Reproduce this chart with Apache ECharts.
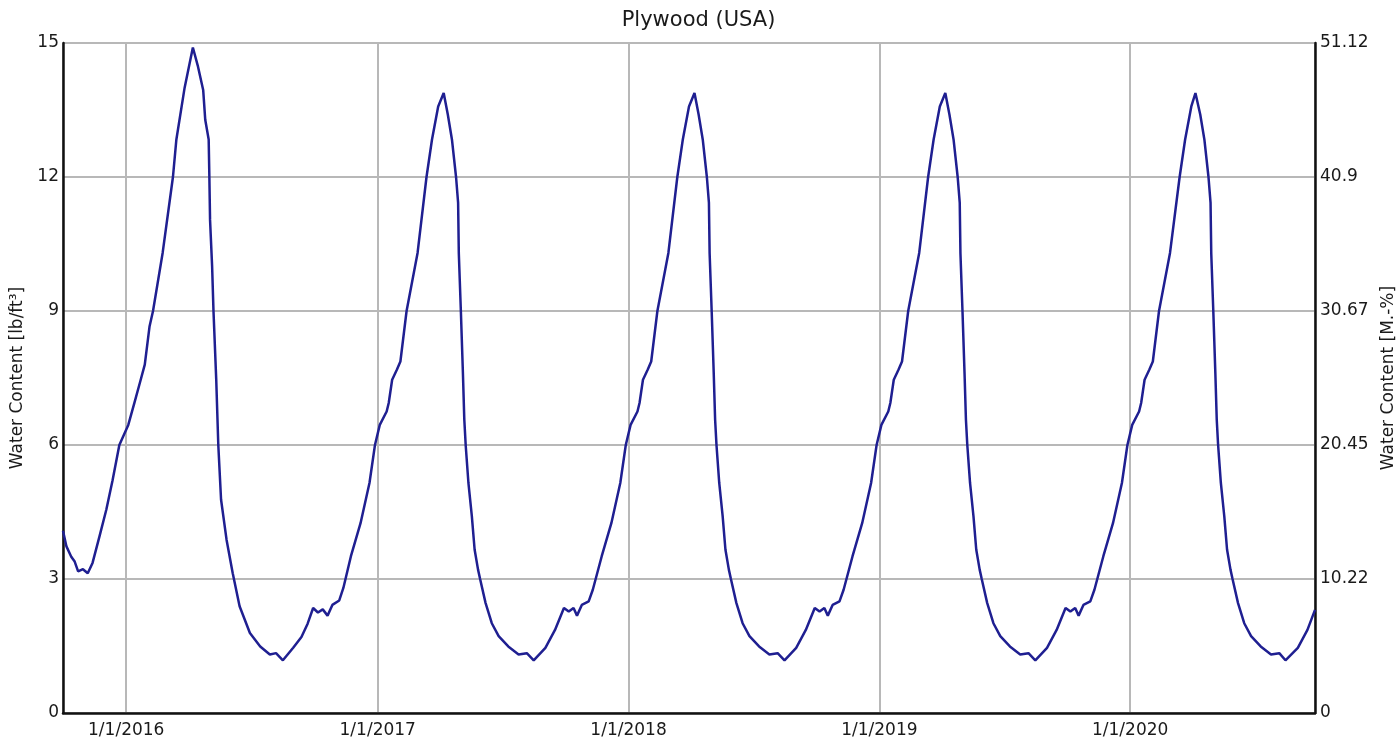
<!DOCTYPE html>
<html>
<head>
<meta charset="utf-8">
<script src="https://cdn.jsdelivr.net/npm/echarts@6/dist/echarts.min.js"></script>
<style>
html,body{margin:0;padding:0;background:#fff;overflow:hidden;}
#chart{width:1397px;height:740px;}
</style>
</head>
<body>
<div id="chart"></div>
<script>
// ---- data ----
const title = 'Plywood (USA)';
const leftName = 'Water Content [lb/ft³]';
const rightName = 'Water Content [M.-%]';
const rightTickLabels = ['0', '10.22', '20.45', '30.67', '40.9', '51.12'];
const xMin = '2015-10-01';
const xMax = '2020-09-26';

// autumn 2015
const dates2015 = ['2015-10-01','2015-10-06','2015-10-13','2015-10-18','2015-10-23','2015-10-30','2015-11-06','2015-11-13','2015-11-23','2015-12-03','2015-12-12','2015-12-22'];
const water2015 = [4.08, 3.73, 3.50, 3.39, 3.17, 3.22, 3.13, 3.36, 3.95, 4.55, 5.20, 6.00];

// 2016 (leap year)
const dates2016 = ['2016-01-04','2016-01-13','2016-01-21','2016-01-28','2016-02-04','2016-02-09','2016-02-23','2016-03-09','2016-03-14','2016-03-26','2016-04-07','2016-04-14','2016-04-22','2016-04-25','2016-04-30','2016-05-01','2016-05-02','2016-05-05','2016-05-07','2016-05-11','2016-05-14','2016-05-18','2016-05-26','2016-06-04','2016-06-14','2016-06-29','2016-07-14','2016-07-28','2016-08-06','2016-08-16','2016-08-31','2016-09-12','2016-09-21','2016-09-29','2016-10-06','2016-10-13','2016-10-20','2016-10-27','2016-11-06','2016-11-12','2016-11-23','2016-12-07','2016-12-20','2016-12-28'];
const water2016 = [6.45, 6.95, 7.40, 7.80, 8.66, 9.00, 10.30, 12.00, 12.84, 14.00, 14.90, 14.50, 13.95, 13.28, 12.84, 12.00, 11.04, 10.00, 9.00, 7.46, 6.00, 4.78, 3.88, 3.13, 2.39, 1.79, 1.49, 1.31, 1.34, 1.18, 1.46, 1.70, 2.00, 2.35, 2.25, 2.32, 2.18, 2.42, 2.52, 2.80, 3.51, 4.25, 5.15, 6.00];

// month-day positions shared by 2017, 2018 and 2019
const monthDays = ['01-04','01-14','01-17','01-22','01-29','02-03','02-12','02-28','03-13','03-21','03-30','04-07','04-13','04-19','04-25','04-28','04-29','05-02','05-05','05-07','05-09','05-13','05-18','05-22','05-27','05-30','06-07','06-16','06-26','07-10','07-25','08-06','08-16','09-02','09-16','09-29','10-06','10-13','10-18','10-25','11-04','11-10','11-23','12-07','12-20','12-28'];
const water2017 = [6.45, 6.75, 6.94, 7.46, 7.69, 7.87, 9.00, 10.30, 12.00, 12.84, 13.58, 13.88, 13.40, 12.84, 12.00, 11.42, 10.30, 9.00, 7.60, 6.57, 6.00, 5.15, 4.40, 3.66, 3.21, 3.00, 2.46, 2.01, 1.72, 1.49, 1.31, 1.34, 1.18, 1.46, 1.86, 2.35, 2.27, 2.35, 2.18, 2.42, 2.50, 2.76, 3.51, 4.25, 5.15, 6.00];
const water2018 = [6.45, 6.75, 6.94, 7.46, 7.69, 7.87, 9.00, 10.30, 12.00, 12.84, 13.58, 13.88, 13.40, 12.84, 12.00, 11.42, 10.30, 9.00, 7.60, 6.57, 6.00, 5.15, 4.40, 3.66, 3.21, 3.00, 2.46, 2.01, 1.72, 1.49, 1.31, 1.34, 1.18, 1.46, 1.86, 2.35, 2.27, 2.35, 2.18, 2.42, 2.50, 2.76, 3.51, 4.25, 5.15, 6.00];
const water2019 = [6.45, 6.75, 6.94, 7.46, 7.69, 7.87, 9.00, 10.30, 12.00, 12.84, 13.58, 13.88, 13.40, 12.84, 12.00, 11.42, 10.30, 9.00, 7.60, 6.57, 6.00, 5.15, 4.40, 3.66, 3.21, 3.00, 2.46, 2.01, 1.72, 1.49, 1.31, 1.34, 1.18, 1.46, 1.86, 2.35, 2.27, 2.35, 2.18, 2.42, 2.50, 2.76, 3.51, 4.25, 5.15, 6.00];

// 2020 (leap year, ends in September)
const dates2020 = ['2020-01-04','2020-01-14','2020-01-17','2020-01-22','2020-01-29','2020-02-03','2020-02-12','2020-02-28','2020-03-13','2020-03-21','2020-03-30','2020-04-05','2020-04-12','2020-04-18','2020-04-24','2020-04-27','2020-04-28','2020-05-01','2020-05-04','2020-05-06','2020-05-08','2020-05-12','2020-05-17','2020-05-21','2020-05-26','2020-05-29','2020-06-06','2020-06-15','2020-06-25','2020-07-09','2020-07-24','2020-08-05','2020-08-14','2020-09-01','2020-09-15','2020-09-26'];
const water2020 = [6.45, 6.75, 6.94, 7.46, 7.69, 7.87, 9.00, 10.30, 12.00, 12.84, 13.58, 13.88, 13.40, 12.84, 12.00, 11.42, 10.30, 9.00, 7.60, 6.57, 6.00, 5.15, 4.40, 3.66, 3.21, 3.00, 2.46, 2.01, 1.72, 1.49, 1.31, 1.34, 1.18, 1.46, 1.86, 2.31];

// ---- build series ----
const points = [];
function add(dates, vals) { for (let i = 0; i < vals.length; i++) points.push([dates[i], vals[i]]); }
add(dates2015, water2015);
add(dates2016, water2016);
add(monthDays.map(m => '2017-' + m), water2017);
add(monthDays.map(m => '2018-' + m), water2018);
add(monthDays.map(m => '2019-' + m), water2019);
add(dates2020, water2020);

const FONT = 'DejaVu Sans';
const DAY = 86400000;
const chart = echarts.init(document.getElementById('chart'));
chart.setOption({
  animation: false,
  backgroundColor: '#ffffff',
  title: {
    text: title, left: 'center', top: 5,
    textStyle: { fontFamily: FONT, fontSize: 21, fontWeight: 'normal', color: '#1a1a1a' }
  },
  grid: { left: 63, right: 82, top: 43, bottom: 27, containLabel: false, outerBoundsMode: 'none' },
  xAxis: {
    type: 'time', min: xMin, max: xMax,
    minInterval: 365 * DAY, maxInterval: 366 * DAY,
    axisLine: { show: true, lineStyle: { color: '#111', width: 2.5 } },
    axisTick: { show: false },
    splitLine: { show: true, lineStyle: { color: '#b8b8b8', width: 2 } },
    axisLabel: {
      fontFamily: FONT, fontSize: 17, color: '#1a1a1a', margin: 9,
      hideOverlap: false,
      formatter: function (v) {
        const d = new Date(v);
        if (d.getMonth() !== 0 || d.getDate() !== 1) return '';
        return (d.getMonth() + 1) + '/' + d.getDate() + '/' + d.getFullYear();
      }
    }
  },
  yAxis: [
    {
      type: 'value', min: 0, max: 15, interval: 3, position: 'left',
      name: leftName, nameLocation: 'middle', nameGap: 33, nameRotate: 90,
      nameTextStyle: { fontFamily: FONT, fontSize: 17, color: '#1a1a1a' },
      axisLine: { show: true, lineStyle: { color: '#111', width: 2.5 } },
      axisTick: { show: false },
      splitLine: { show: true, lineStyle: { color: '#b8b8b8', width: 2 } },
      axisLabel: { fontFamily: FONT, fontSize: 17, color: '#1a1a1a', margin: 4 }
    },
    {
      type: 'value', min: 0, max: 15, interval: 3, position: 'right',
      name: rightName, nameLocation: 'middle', nameGap: 65, nameRotate: 90,
      nameTextStyle: { fontFamily: FONT, fontSize: 17, color: '#1a1a1a' },
      axisLine: { show: true, lineStyle: { color: '#111', width: 2.5 } },
      axisTick: { show: false },
      splitLine: { show: false },
      axisLabel: {
        fontFamily: FONT, fontSize: 17, color: '#1a1a1a', margin: 5,
        formatter: function (v) { return rightTickLabels[Math.round(v / 3)]; }
      }
    }
  ],
  series: [{
    type: 'line', yAxisIndex: 0, data: points,
    showSymbol: false, symbol: 'none', smooth: false,
    lineStyle: { color: '#1f1f91', width: 2.5 },
    clip: true
  }]
});
</script>
</body>
</html>
